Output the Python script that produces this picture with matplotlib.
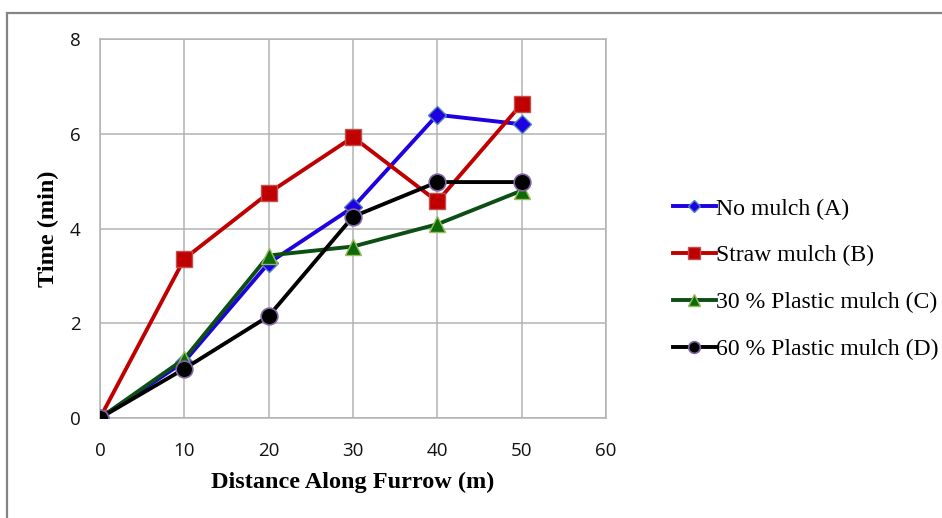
import numpy as np
import matplotlib
matplotlib.use('Agg')
import matplotlib.pyplot as plt
from matplotlib.patches import Rectangle

# data
distance = [0, 10, 20, 30, 40, 50]
no_mulch = [0, 1.19, 3.27, 4.45, 6.40, 6.20]
straw_mulch = [0, 3.36, 4.75, 5.93, 4.57, 6.63]
plastic_30 = [0, 1.25, 3.43, 3.62, 4.09, 4.80]
plastic_60 = [0, 1.04, 2.15, 4.25, 4.98, 4.98]

labels = ['No mulch (A)', 'Straw mulch (B)', '30 % Plastic mulch (C)', '60 % Plastic mulch (D)']
x_ticks = [0, 10, 20, 30, 40, 50, 60]
y_ticks = [0, 2, 4, 6, 8]

W, H = 942, 518
fig = plt.figure(figsize=(W / 100, H / 100), dpi=100)
ax = fig.add_axes([100 / W, 1 - 418 / H, 506 / W, 379 / H])

# outer chart border (cut off on right and bottom like the screenshot)
fig.patches.append(Rectangle((7 / W, -0.1), 1.2, 1 - 13 / H + 0.1, transform=fig.transFigure,
                             fill=False, edgecolor='#848484', linewidth=1.6, zorder=0))

lw = 2.8
ax.plot(distance, no_mulch, color='#1f00e0', lw=lw, marker='D', ms=9,
        mfc='#1f00e0', mec='#4f81bd', mew=1, label=labels[0], zorder=3)
ax.plot(distance, straw_mulch, color='#c00000', lw=lw, marker='s', ms=12,
        mfc='#c00000', mec='#c0504d', mew=1, label=labels[1], zorder=3)
ax.plot(distance, plastic_30, color='#0c4f14', lw=lw, marker='^', ms=12,
        mfc='#0b6b0b', mec='#9bbb59', mew=1, label=labels[2], zorder=4)
ax.plot(distance, plastic_60, color='black', lw=lw, marker='o', ms=12,
        mfc='black', mec='#8064a2', mew=1.2, label=labels[3], zorder=5)

ax.set_xlim(0, 60)
ax.set_ylim(0, 8)
ax.set_xticks(x_ticks)
ax.set_yticks(y_ticks)
ax.grid(True, color='#b3b3b3', lw=1.1)
ax.set_axisbelow(True)
for s in ax.spines.values():
    s.set_color('#b3b3b3')
    s.set_linewidth(1.1)
ax.tick_params(length=0, labelsize=13.5, colors='#111111')
ax.tick_params(axis='y', pad=14)
ax.tick_params(axis='x', pad=17)
for lab in ax.get_xticklabels() + ax.get_yticklabels():
    lab.set_family('Open Sans')

ax.set_xlabel('Distance Along Furrow (m)', family='Liberation Serif', fontweight='bold',
              fontsize=17.5, labelpad=9)
ax.set_ylabel('Time (min)', family='Liberation Serif', fontweight='bold', fontsize=17.5)
ax.yaxis.set_label_coords(-41 / 506, 0.5)

# legend sits tight against the right edge
fig.legend(loc='center left', bbox_to_anchor=(663 / W, 1 - 279 / H), frameon=False,
           prop={'family': 'Liberation Serif', 'size': 17.1}, handlelength=1.85,
           handletextpad=0.0, labelspacing=1.06, markerscale=0.7, borderaxespad=0)

fig.savefig('out.png', dpi=100)
